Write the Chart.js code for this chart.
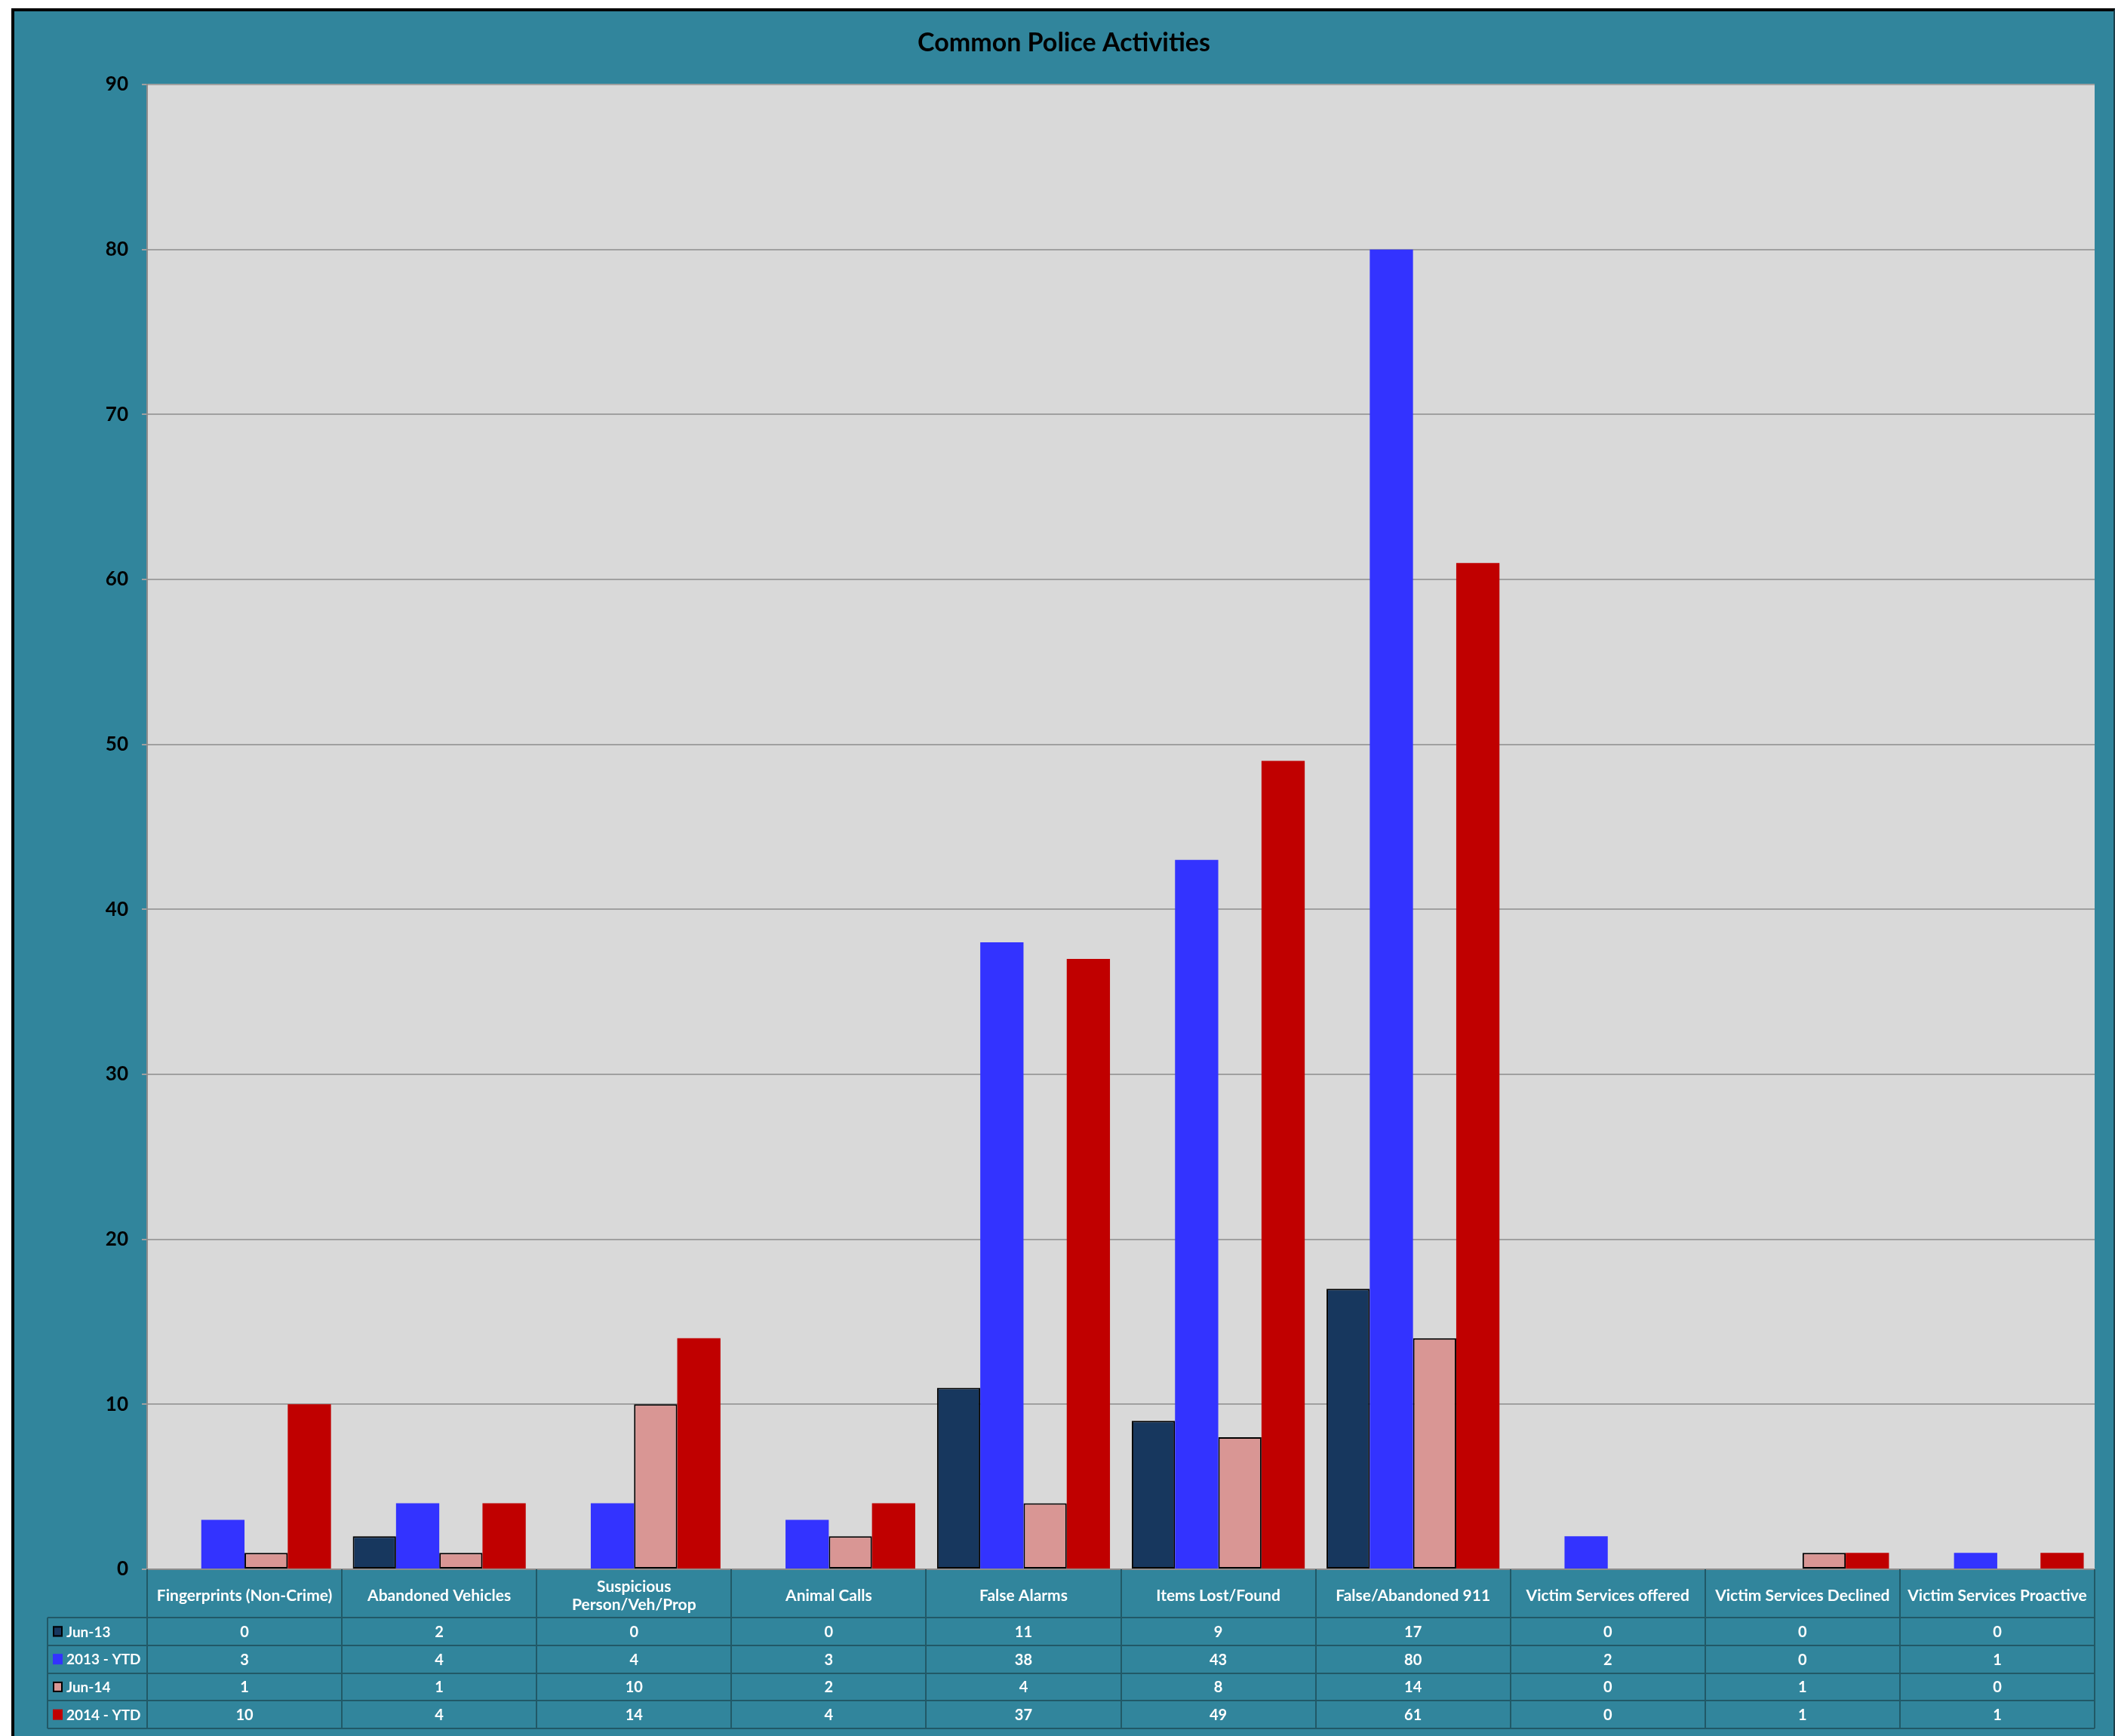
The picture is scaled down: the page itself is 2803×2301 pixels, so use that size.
<!DOCTYPE html>
<html>
<head>
<meta charset="utf-8">
<script src="https://cdn.jsdelivr.net/npm/chart.js@4.4.0/dist/chart.umd.min.js"></script>
<style>
  html, body { margin: 0; padding: 0; background: #fff; }
  #frame {
    position: absolute; left: 15px; top: 11px;
    width: 2782px; height: 2286px;
    border-left: 4px solid #000; border-top: 4px solid #000; border-right: 2px solid #1c3f4a;
    background: #31859C;
  }
  #wrap { position: relative; width: 2782px; height: 2286px; }
</style>
</head>
<body>
<div id="frame"><div id="wrap"><canvas id="chart"></canvas></div></div>
<script>
// categories (multi-line where Excel wrapped them)
const categories = [
    'Fingerprints (Non-Crime)',
    'Abandoned Vehicles',
    ['Suspicious', 'Person/Veh/Prop'],
    'Animal Calls',
    'False Alarms',
    'Items Lost/Found',
    'False/Abandoned 911',
    'Victim Services offered',
    'Victim Services Declined',
    'Victim Services Proactive'
];

const jun13  = [0, 2, 0, 0, 11, 9, 17, 0, 0, 0];
const ytd13  = [3, 4, 4, 3, 38, 43, 80, 2, 0, 1];
const jun14  = [1, 1, 10, 2, 4, 8, 14, 0, 1, 0];
const ytd14  = [10, 4, 14, 4, 37, 49, 61, 0, 1, 1];

const seriesNames = ['Jun-13', '2013 - YTD', 'Jun-14', '2014 - YTD'];
const yTicks = [0, 10, 20, 30, 40, 50, 60, 70, 80, 90];

const FONT = 'Lato';
const tableLine = '#215967';

const noZeroBorder = (w) => (ctx) => ctx.raw === 0 ? 0 : w;

// plot area fill
const plotBg = {
    id: 'plotBg',
    beforeDraw(chart) {
        const a = chart.chartArea;
        const ctx = chart.ctx;
        ctx.save();
        ctx.fillStyle = '#D9D9D9';
        ctx.fillRect(a.left, a.top, a.right - a.left, a.bottom - a.top);
        ctx.restore();
    }
};

// data table under the x axis
const dataTable = {
    id: 'dataTable',
    afterDraw(chart) {
        const ctx = chart.ctx;
        const x = chart.scales.x;
        const n = categories.length;
        const cw = (x.right - x.left) / n;
        const top = x.bottom;
        const rowH = 36.75;
        const bottom = top + rowH * 4;
        const legendLeft = 44;

        ctx.save();
        ctx.strokeStyle = tableLine;
        ctx.lineWidth = 2;
        ctx.beginPath();
        for (let i = 0; i <= n; i++) {
            const px = Math.round(x.getPixelForValue(i) - cw / 2);
            ctx.moveTo(px, x.top);
            ctx.lineTo(px, bottom);
        }
        for (let r = 0; r <= 4; r++) {
            const py = Math.round(top + r * rowH);
            ctx.moveTo(legendLeft, py);
            ctx.lineTo(x.right, py);
        }
        ctx.moveTo(legendLeft, top);
        ctx.lineTo(legendLeft, bottom);
        ctx.stroke();

        ctx.textBaseline = 'middle';
        chart.data.datasets.forEach((ds, r) => {
            const cy = top + r * rowH + rowH / 2;
            // legend key
            ctx.fillStyle = ds.backgroundColor;
            ctx.fillRect(51, cy - 7, 13, 14);
            if (ds.borderColor && r % 2 === 0) {
                ctx.strokeStyle = '#000';
                ctx.lineWidth = 2;
                ctx.strokeRect(52, cy - 6, 11, 12);
            }
            ctx.fillStyle = '#fff';
            ctx.font = 'bold 19px ' + FONT;
            ctx.textAlign = 'left';
            ctx.fillText(ds.label, 69, cy + 1);
            ctx.font = 'bold 20px ' + FONT;
            ctx.textAlign = 'center';
            ds.data.forEach((v, i) => {
                ctx.fillText(String(v), x.getPixelForValue(i), cy + 1);
            });
        });
        ctx.restore();
    }
};

new Chart(document.getElementById('chart'), {
    type: 'bar',
    data: {
        labels: categories,
        datasets: [
            { label: seriesNames[0], data: jun13, backgroundColor: '#17375E', borderColor: '#000', borderWidth: noZeroBorder(2), borderSkipped: false },
            { label: seriesNames[1], data: ytd13, backgroundColor: '#3333FF', borderWidth: 0 },
            { label: seriesNames[2], data: jun14, backgroundColor: '#D99694', borderColor: '#000', borderWidth: noZeroBorder(2), borderSkipped: false },
            { label: seriesNames[3], data: ytd14, backgroundColor: '#C00000', borderWidth: 0 }
        ]
    },
    options: {
        responsive: true,
        maintainAspectRatio: false,
        animation: false,
        layout: { padding: { left: 25, right: 25, top: 0, bottom: 157 } },
        datasets: { bar: { categoryPercentage: 0.888, barPercentage: 1 } },
        plugins: {
            legend: { display: false },
            tooltip: { enabled: false },
            title: {
                display: true,
                text: 'Common Police Activities',
                color: '#000',
                font: { family: FONT, size: 34, weight: 'bold' },
                padding: { top: 21.6, bottom: 34.6 }
            }
        },
        scales: {
            x: {
                grid: { display: false },
                border: { color: '#8c8c8c', width: 2 },
                ticks: {
                    color: '#fff',
                    font: { family: FONT, size: 21, weight: 'bold', lineHeight: 1.15 },
                    padding: 15,
                    autoSkip: false,
                    maxRotation: 0,
                    minRotation: 0,
                    crossAlign: 'center'
                },
                afterFit(s) { s.height = 64; }
            },
            y: {
                min: 0,
                max: 90,
                afterBuildTicks(s) { s.ticks = yTicks.map(v => ({ value: v })); },
                ticks: {
                    color: '#000',
                    font: { family: FONT, size: 26, weight: 'bold' },
                    padding: 18
                },
                grid: { color: '#a0a0a0', lineWidth: 2, tickLength: 7 },
                border: { color: '#8c8c8c', width: 2 },
                afterFit(s) { s.width = 151; }
            }
        }
    },
    plugins: [plotBg, dataTable]
});
</script>
</body>
</html>
